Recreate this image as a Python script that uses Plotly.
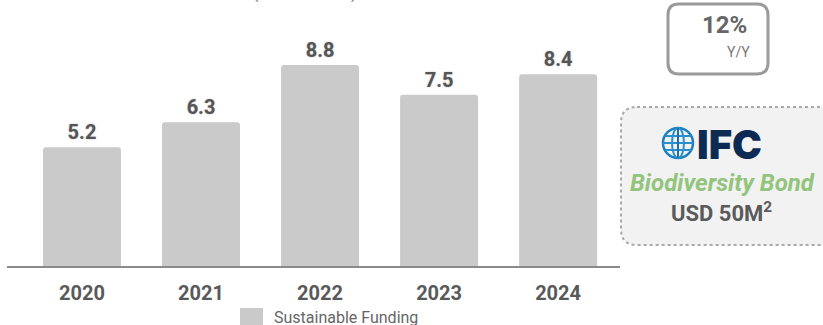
import plotly.graph_objects as go

years = ["2020", "2021", "2022", "2023", "2024"]
funding = [5.2, 6.3, 8.8, 7.5, 8.4]
series_name = "Sustainable Funding"
growth_text = "12%"
growth_label = "Y/Y"
bond_title = "Biodiversity Bond"
bond_amount = "USD 50M<sup>2</sup>"

W, H = 823, 325
L, R, T, B = 7, 620, 0, 266  # plot area pixel bounds


def px(x):
    return (x - L) / (R - L)


def py(y):
    return (B - y) / (B - T)


def rounded_path(x0, y0, x1, y1, r):
    X = lambda v: f"{px(v):.5f}"
    Y = lambda v: f"{py(v):.5f}"
    return (f"M {X(x0+r)},{Y(y0)} L {X(x1-r)},{Y(y0)} Q {X(x1)},{Y(y0)} {X(x1)},{Y(y0+r)} "
            f"L {X(x1)},{Y(y1-r)} Q {X(x1)},{Y(y1)} {X(x1-r)},{Y(y1)} "
            f"L {X(x0+r)},{Y(y1)} Q {X(x0)},{Y(y1)} {X(x0)},{Y(y1-r)} "
            f"L {X(x0)},{Y(y0+r)} Q {X(x0)},{Y(y0)} {X(x0+r)},{Y(y0)} Z")


BAR_COLOR = "#cacaca"

fig = go.Figure()
fig.add_trace(go.Bar(
    x=years, y=funding, name=series_name,
    marker=dict(color=BAR_COLOR, line=dict(width=0)),
    width=0.655,
    text=[f"{v:.1f}" for v in funding], textposition="outside",
    textfont=dict(family="Roboto", size=20, color="#555555", weight="bold",
                  shadow="0px 0px 2px #bbbbbb"),
    cliponaxis=False, showlegend=False,
))

shapes = []
# 12% box
shapes.append(dict(type="path", xref="paper", yref="paper",
                   path=rounded_path(668, 4, 768, 74, 11),
                   line=dict(color="#9a9a9a", width=3), fillcolor="white", layer="below"))
# bond box
shapes.append(dict(type="path", xref="paper", yref="paper",
                   path=rounded_path(621, 107, 840, 245, 16),
                   line=dict(color="#a8a8a8", width=2, dash="dot"), fillcolor="#f2f2f2", layer="below"))
# globe icon
cx, cy, r = 678, 143, 15
shapes.append(dict(type="circle", xref="paper", yref="paper",
                   x0=px(cx - r), x1=px(cx + r), y0=py(cy + r), y1=py(cy - r),
                   line=dict(color="#1d7fc0", width=2.5)))
shapes.append(dict(type="circle", xref="paper", yref="paper",
                   x0=px(cx - 6), x1=px(cx + 6), y0=py(cy + r), y1=py(cy - r),
                   line=dict(color="#2a8fd0", width=2)))
for dy, half in [(-7, 13), (0, 15), (7, 13)]:
    shapes.append(dict(type="line", xref="paper", yref="paper",
                       x0=px(cx - half), x1=px(cx + half), y0=py(cy + dy), y1=py(cy + dy),
                       line=dict(color="#2a8fd0", width=2)))
shapes.append(dict(type="line", xref="paper", yref="paper",
                   x0=px(cx), x1=px(cx), y0=py(cy - r), y1=py(cy + r),
                   line=dict(color="#1d6fb0", width=2)))
# legend swatch
shapes.append(dict(type="rect", xref="paper", yref="paper",
                   x0=px(240), x1=px(263), y0=py(326), y1=py(308),
                   line=dict(width=0), fillcolor=BAR_COLOR))

annotations = [
    dict(text="(USD Billion)", xref="paper", yref="paper", x=px(305), y=py(5),
         xanchor="center", yanchor="bottom", showarrow=False,
         font=dict(family="Roboto", size=19, color="#888888")),
    dict(text=f"<b>{growth_text}</b>", xref="paper", yref="paper", x=px(724), y=py(25),
         xanchor="center", yanchor="middle", showarrow=False,
         font=dict(family="Roboto", size=24, color="#666666")),
    dict(text=growth_label, xref="paper", yref="paper", x=px(752), y=py(52),
         xanchor="right", yanchor="middle", showarrow=False,
         font=dict(family="Roboto", size=14, color="#777777")),
    dict(text="IFC", xref="paper", yref="paper", x=px(695), y=py(144),
         xanchor="left", yanchor="middle", showarrow=False,
         font=dict(family="Inter", size=40, color="#0d2b52", weight=900)),
    dict(text=f"<b><i>{bond_title}</i></b>", xref="paper", yref="paper", x=px(722), y=py(183),
         xanchor="center", yanchor="middle", showarrow=False,
         font=dict(family="Roboto", size=24, color="#93c47d")),
    dict(text=f"<b>{bond_amount}</b>", xref="paper", yref="paper", x=px(721), y=py(212),
         xanchor="center", yanchor="middle", showarrow=False,
         font=dict(family="Roboto", size=22, color="#5a5a5a")),
    dict(text=series_name, xref="paper", yref="paper", x=px(272), y=py(317),
         xanchor="left", yanchor="middle", showarrow=False,
         font=dict(family="Roboto", size=16, color="#666666")),
]

fig.update_layout(
    width=W, height=H,
    margin=dict(l=L, r=W - R, t=T, b=H - B, pad=0, autoexpand=False),
    paper_bgcolor="white", plot_bgcolor="white",
    barcornerradius=3,
    showlegend=False,
    xaxis=dict(range=[-0.63, 4.52], showgrid=False, zeroline=False,
               showline=True, linecolor="#8a8a8a", linewidth=2,
               ticks="", tickfont=dict(family="Roboto", size=20, color="#595959", weight="bold"),
               ticklabelstandoff=8),
    yaxis=dict(range=[0, 11.65], visible=False),
    shapes=shapes, annotations=annotations,
    font=dict(family="Roboto"),
)

fig.write_html("out.html")
